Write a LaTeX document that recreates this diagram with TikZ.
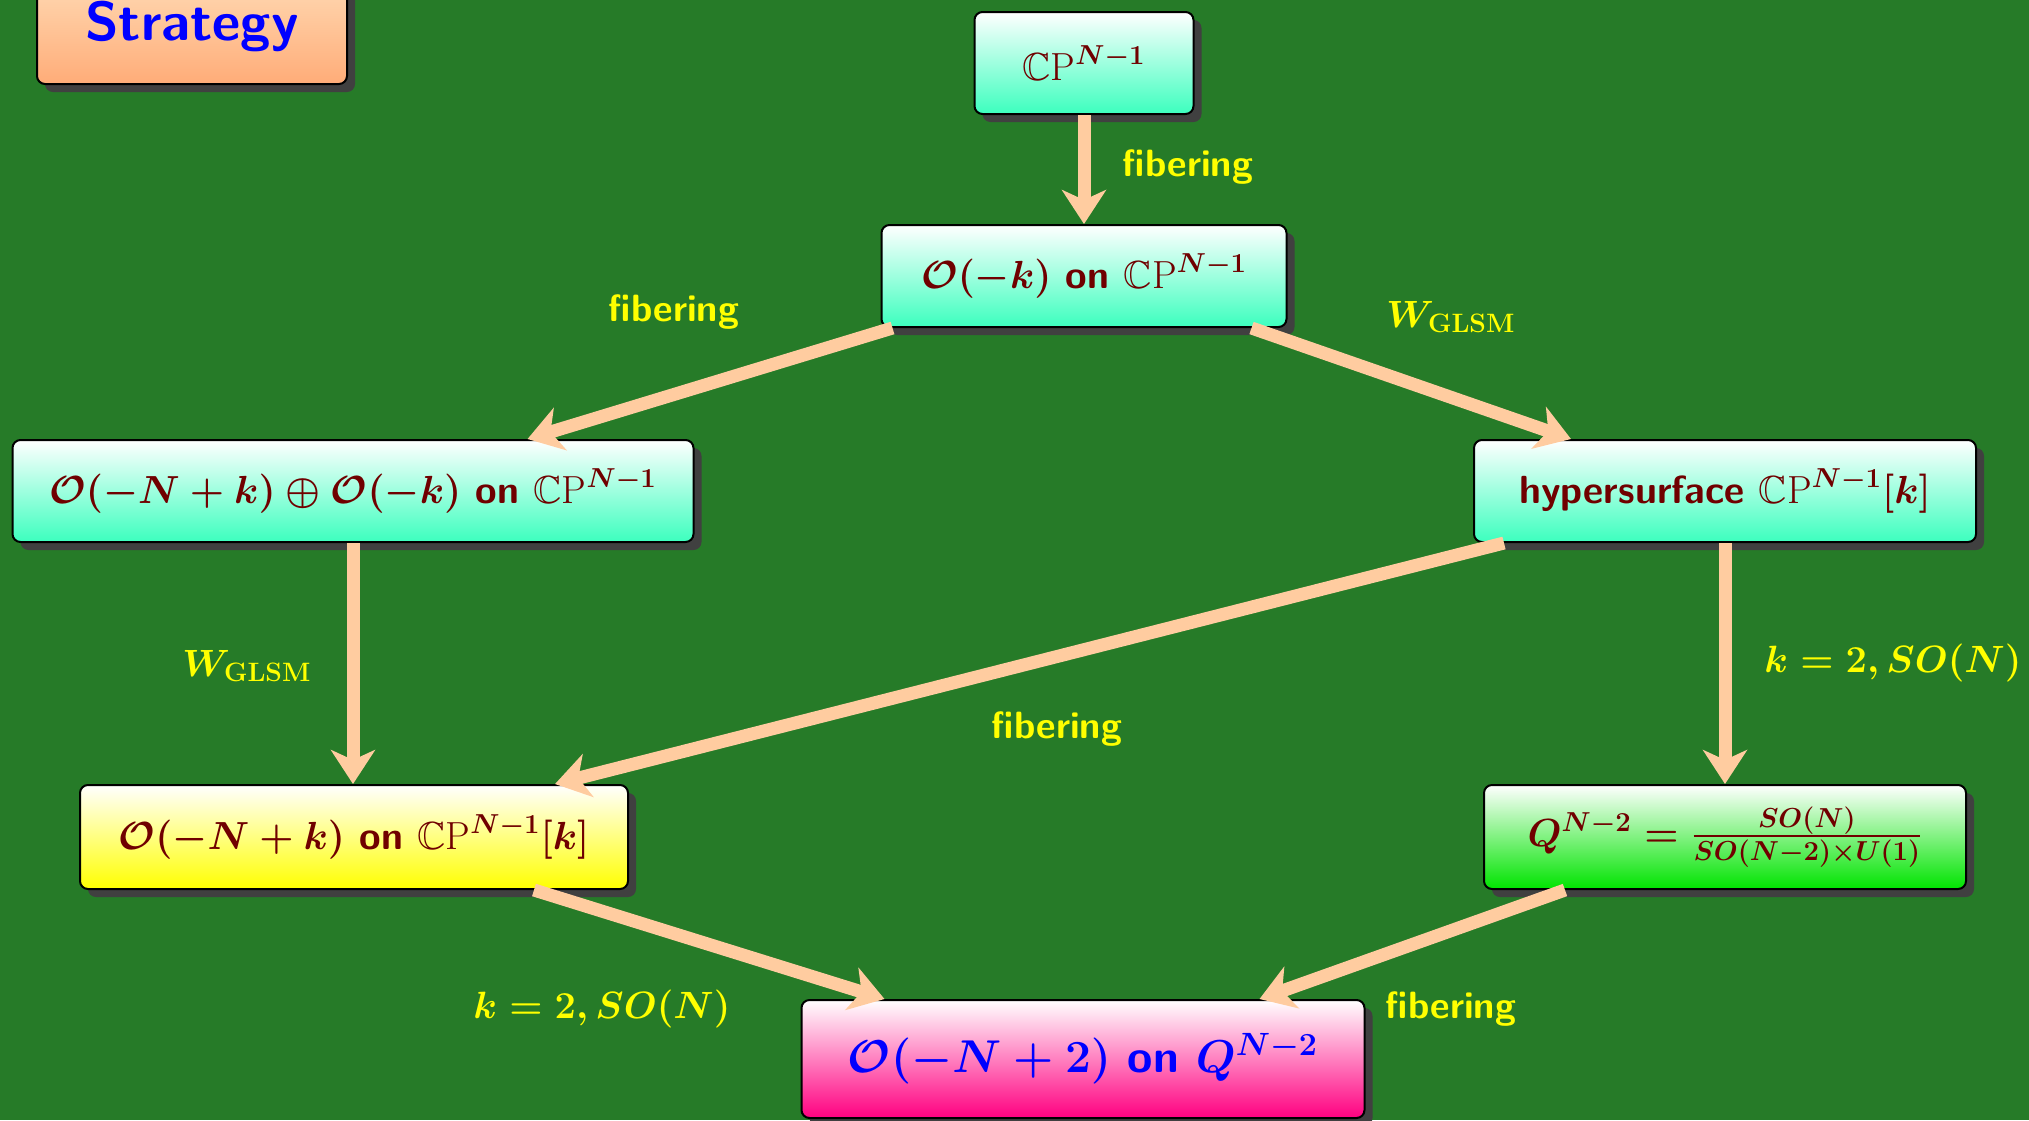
\RequirePackage{fix-cm}
\documentclass[tikz,border=0pt]{standalone}
\usepackage{amsmath,amssymb}
\usetikzlibrary{arrows.meta,shadows,calc}
\definecolor{bg}{RGB}{38,123,40}
\definecolor{aqua}{RGB}{60,255,190}
\definecolor{qgreen}{RGB}{0,228,0}
\definecolor{pinkb}{RGB}{255,0,128}
\definecolor{peachtop}{RGB}{255,222,185}
\definecolor{peachbot}{RGB}{255,172,120}
\definecolor{maroonc}{RGB}{112,0,0}
\definecolor{arrowc}{RGB}{255,204,160}
\definecolor{shadowc}{RGB}{64,64,64}
\definecolor{labelc}{RGB}{255,255,0}
\newcommand{\myCP}{\mathbb{C}\textrm{\mdseries P}}
\tikzset{
  box/.style={draw=black, line width=1pt, rounded corners=4pt, top color=white,
    bottom color=aqua, text=maroonc, inner sep=0pt, align=center,
    font=\fontsize{19.6}{23}\selectfont\sffamily\bfseries\boldmath,
    general shadow={shadow xshift=4pt, shadow yshift=-4pt, fill=shadowc, draw=none}},
  conn/.style={draw=arrowc, line width=6.5pt, -{Stealth[length=17pt,width=22pt,inset=5pt]}},
  lab/.style={text=labelc, inner sep=0pt, font=\fontsize{19}{23}\selectfont\sffamily\bfseries\boldmath}
}
\begin{document}
\begin{tikzpicture}[x=0.5pt,y=-0.5pt]
\fill[bg] (0,0) rectangle (2029,1120);
\useasboundingbox (0,0) rectangle (2029,1120);
% nodes
\node[box, top color=peachtop, bottom color=peachbot, text=blue,
  font=\fontsize{27.5}{32}\selectfont\sffamily\bfseries,
  minimum width=155pt, minimum height=58pt] (strat) at (192,26) {Strategy};
\node[box, minimum width=109.5pt, minimum height=51pt] (cp) at (1084,63) {$\myCP^{N-1}$};
\node[box, minimum width=202.5pt, minimum height=51pt] (ok) at (1084,276) {$\mathcal{O}(-k)$ on $\myCP^{N-1}$};
\node[box, minimum width=340.5pt, minimum height=51pt] (left) at (353,491) {$\mathcal{O}(-N+k)\oplus\mathcal{O}(-k)$ on $\myCP^{N-1}$};
\node[box, minimum width=251pt, minimum height=51pt] (hyp) at (1725,491) {hypersurface $\myCP^{N-1}[k]$};
\node[box, bottom color=yellow, minimum width=274pt, minimum height=52pt] (yel) at (354,837) {$\mathcal{O}(-N+k)$ on $\myCP^{N-1}[k]$};
\node[box, bottom color=qgreen, minimum width=241pt, minimum height=52pt] (q) at (1725,837) {$Q^{N-2}=\frac{SO(N)}{SO(N-2)\times U(1)}$};
\node[box, bottom color=pinkb, text=blue, font=\fontsize{23}{27}\selectfont\sffamily\bfseries\boldmath,
  minimum width=281.5pt, minimum height=59pt] (pink) at (1083,1059) {$\mathcal{O}(-N+2)$ on $Q^{N-2}$};
% connectors
\draw[conn] (cp.south) -- (ok.north);
\draw[conn] ([xshift=6pt]ok.south west) -- ([xshift=-83.5pt]left.north east);
\draw[conn] ([xshift=-18pt]ok.south east) -- ([xshift=49pt]hyp.north west);
\draw[conn] (left.south) -- (left.south |- yel.north);
\draw[conn] ([xshift=15.5pt]hyp.south west) -- ([xshift=-37pt]yel.north east);
\draw[conn] (hyp.south) -- (hyp.south |- q.north);
\draw[conn] ([xshift=-47.5pt]yel.south east) -- ([xshift=42pt]pink.north west);
\draw[conn] ([xshift=41pt]q.south west) -- ([xshift=-53pt]pink.north east);
% labels
\node[lab] (l1) at (1188,167) {fibering};
\node[lab] (l2) at (674,312) {fibering};
\node[lab] (l3) at (1451,317) {$W_{\mathrm{GLSM}}$};
\node[lab] (l4) at (247,666) {$W_{\mathrm{GLSM}}$};
\node[lab] (l5) at (1057,729) {fibering};
\node[lab] (l6) at (1893,663) {$k=2, SO(N)$};
\node[lab] (l7) at (602,1009) {$k=2, SO(N)$};
\node[lab] (l8) at (1451,1009) {fibering};
\end{tikzpicture}
\end{document}
